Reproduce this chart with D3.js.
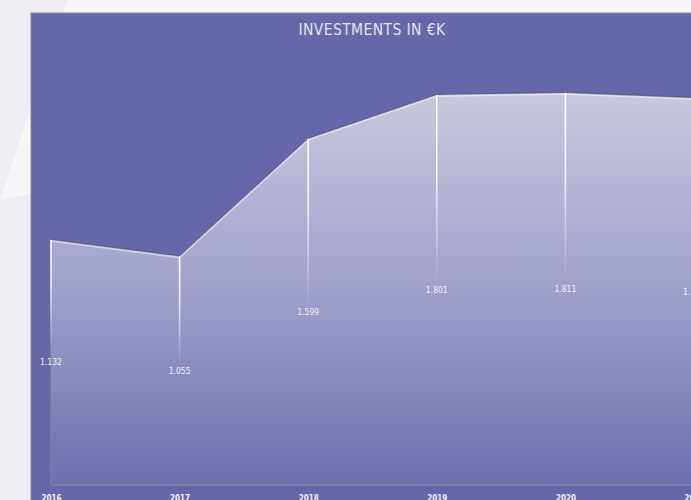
<!DOCTYPE html>
<html>
<head>
<meta charset="utf-8">
<script src="https://cdn.jsdelivr.net/npm/d3@7"></script>
<style>
  html, body { margin: 0; padding: 0; background: #efedf4; }
  svg { display: block; }
</style>
</head>
<body>
<div id="chart"></div>
<script>
// Investitionen pro Jahr, in Tausend Euro
const years = [2016, 2017, 2018, 2019, 2020, 2021];
const values = [1132, 1055, 1599, 1801, 1811, 1787];
const title = "INVESTMENTS IN €K";

(function () {
  const W = 691, H = 500;
  const panel = { x: 31, y: 13, w: 682 };   // Panel ragt rechts über den Rand hinaus
  const plot = { left: 51, right: 694, bottom: 485, top: 52 };

  const de = d3.formatLocale({ decimal: ",", thousands: ".", grouping: [3], currency: ["", "€"] });
  const fmt = de.format(",d");

  const data = years.map((y, i) => ({ year: y, value: values[i] }));

  const svg = d3.select("#chart").append("svg")
    .attr("width", W).attr("height", H);

  const defs = svg.append("defs");

  const x = d3.scalePoint()
    .domain(years)
    .range([plot.left, plot.right]);

  const y = d3.scaleLinear()
    .domain([0, 2000])
    .range([plot.bottom, plot.top]);

  // Hintergrund: heller Keil oben links
  svg.append("path")
    .attr("d", `M67,0 L${W},0 L${W},60 L0,200 Z`)
    .attr("fill", "#f7f7fa");

  // Panel
  svg.append("rect")
    .attr("x", panel.x).attr("y", panel.y)
    .attr("width", panel.w).attr("height", H)
    .attr("fill", "#6667a9")
    .attr("stroke", "#8c8c99")
    .attr("stroke-width", 1);

  svg.append("text")
    .attr("x", 372).attr("y", 35)
    .attr("text-anchor", "middle")
    .attr("font-family", "'Liberation Sans Narrow', 'DejaVu Sans Condensed', sans-serif")
    .attr("font-size", 15.5)
    .attr("letter-spacing", 0.4)
    .attr("fill", "#e4e2ef")
    .text(title);

  // Verlauf der Fläche
  const areaGrad = defs.append("linearGradient")
    .attr("id", "areaGrad")
    .attr("gradientUnits", "userSpaceOnUse")
    .attr("x1", 0).attr("x2", 0)
    .attr("y1", y(d3.max(values))).attr("y2", plot.bottom);
  areaGrad.append("stop").attr("offset", 0).attr("stop-color", "#fff").attr("stop-opacity", 0.64);
  areaGrad.append("stop").attr("offset", 0.5).attr("stop-color", "#fff").attr("stop-opacity", 0.38);
  areaGrad.append("stop").attr("offset", 1).attr("stop-color", "#fff").attr("stop-opacity", 0.05);

  const area = d3.area()
    .x(d => x(d.year))
    .y0(plot.bottom)
    .y1(d => y(d.value));

  svg.append("path")
    .datum(data)
    .attr("d", area)
    .attr("fill", "url(#areaGrad)")
    .attr("stroke", "#8a8a9c")
    .attr("stroke-width", 1);

  const line = d3.line()
    .x(d => x(d.year))
    .y(d => y(d.value));

  // dunkle Kante + heller Schimmer darunter
  svg.append("path")
    .datum(data)
    .attr("d", line)
    .attr("fill", "none")
    .attr("stroke", "#55557a")
    .attr("stroke-opacity", 0.7)
    .attr("stroke-width", 1)
    .attr("transform", "translate(0,-0.8)");

  svg.append("path")
    .datum(data)
    .attr("d", line)
    .attr("fill", "none")
    .attr("stroke", "#fff")
    .attr("stroke-opacity", 0.5)
    .attr("stroke-width", 1.8)
    .attr("transform", "translate(0,0.9)");

  // Vertikale Linien, nach unten ausblendend
  const dropGrad = defs.append("linearGradient")
    .attr("id", "dropGrad")
    .attr("x1", 0).attr("x2", 0).attr("y1", 0).attr("y2", 1);
  dropGrad.append("stop").attr("offset", 0).attr("stop-color", "#fff").attr("stop-opacity", 1);
  dropGrad.append("stop").attr("offset", 0.4).attr("stop-color", "#fff").attr("stop-opacity", 0.85);
  dropGrad.append("stop").attr("offset", 1).attr("stop-color", "#fff").attr("stop-opacity", 0);

  const mid = d => (y(d.value) + plot.bottom) / 2;

  svg.append("g")
    .selectAll("rect")
    .data(data)
    .join("rect")
    .attr("x", d => x(d.year) - 0.8)
    .attr("y", d => y(d.value))
    .attr("width", 1.6)
    .attr("height", d => mid(d) - y(d.value) - 6)
    .attr("fill", "url(#dropGrad)");

  svg.append("g")
    .selectAll("text")
    .data(data)
    .join("text")
    .attr("x", d => x(d.year))
    .attr("y", d => mid(d) + 3)
    .attr("text-anchor", "middle")
    .attr("font-family", "'Liberation Sans Narrow', 'DejaVu Sans Condensed', sans-serif")
    .attr("font-size", 8.5)
    .attr("fill", "#f2f1f8")
    .text(d => fmt(d.value));

  // Jahresachse
  const xAxis = svg.append("g")
    .attr("transform", `translate(0,${plot.bottom})`)
    .call(d3.axisBottom(x).tickSize(0).tickPadding(10).tickFormat(d3.format("d")));
  xAxis.select(".domain").remove();
  xAxis.selectAll("text")
    .attr("font-family", "'Liberation Sans Narrow', 'DejaVu Sans Condensed', sans-serif")
    .attr("font-size", 8)
    .attr("font-weight", "bold")
    .attr("fill", "#f2f1f8");
})();
</script>
</body>
</html>
